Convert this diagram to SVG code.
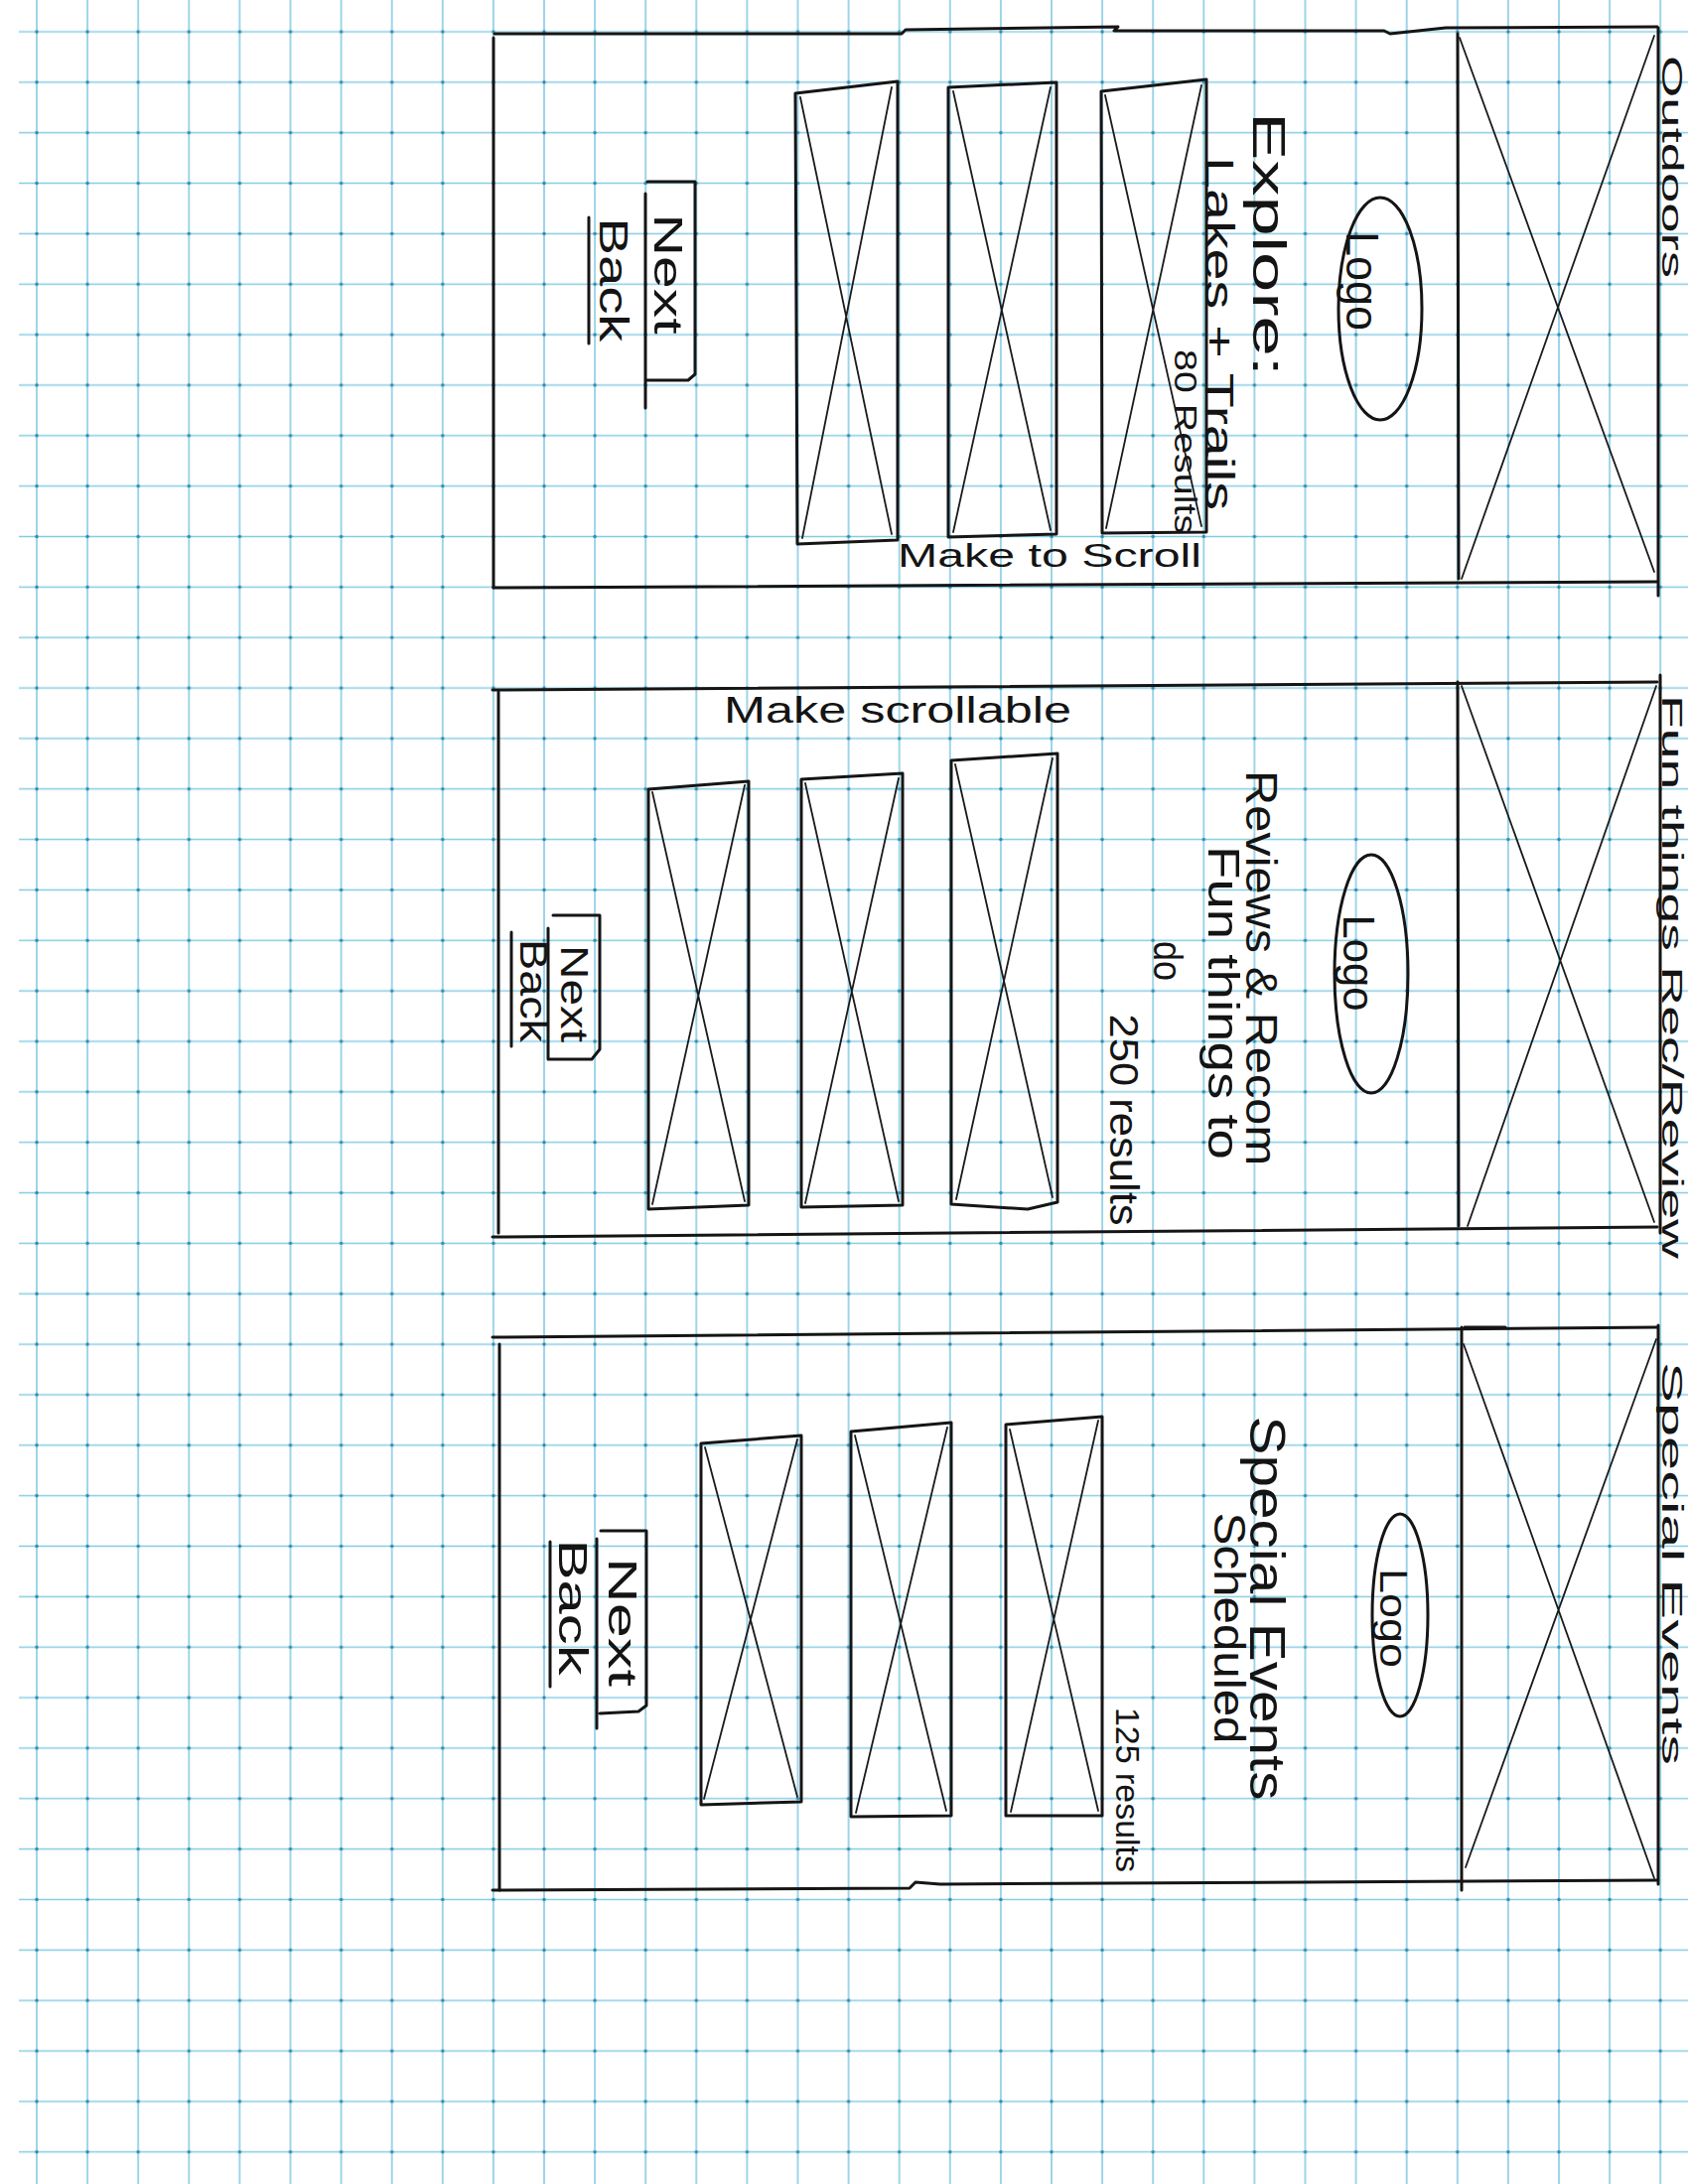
<svg xmlns="http://www.w3.org/2000/svg" width="1700" height="2200" viewBox="0 0 1700 2200">
<style>
.ink{fill:none;stroke:#151515;stroke-width:3;stroke-linecap:round;stroke-linejoin:round}
.thin{fill:none;stroke:#1a1a1a;stroke-width:1.8;stroke-linecap:round}
.box{fill:none;stroke:#151515;stroke-width:3;stroke-linejoin:round}
.hw{font-family:"Liberation Sans","DejaVu Sans",sans-serif;fill:#141414}
</style>
<defs>
<pattern id="grid" patternUnits="userSpaceOnUse" x="11.45" y="6.575" width="51.1" height="50.85">
<path d="M0 25.425 H51.1 M25.55 0 V50.85" stroke="#86cbe3" stroke-width="1.6" fill="none"/>
<circle cx="25.55" cy="25.425" r="1.8" fill="#2f8db0"/>
</pattern>
</defs>
<rect width="1700" height="2200" fill="#ffffff"/>
<rect x="19" y="0" width="1681" height="2200" fill="url(#grid)"/>

<g id="connectors"></g>

<!-- Panel 1: Outdoors -->
<g id="panel-outdoors">
<path class="ink" d="M498 34 L908 34 L912 30 L1126 27 L1122 31 L1394 31 L1400 34 L1456 28 L1669 27"/>
<path class="ink" d="M497 38 L497 592"/>
<path class="ink" d="M497 592 L1669 586"/>
<path class="ink" d="M1670 28 L1670 600"/>
<g id="p1-hero"><path class="ink" d="M1468 34 L1469 583"/><path class="thin" d="M1470 38 L1666 576 M1666 36 L1472 583"/></g>
<g id="p1-logo"><ellipse class="ink" cx="1390" cy="311" rx="42" ry="112"/><text class="hw" transform="translate(1372 283) rotate(90)" text-anchor="middle" dominant-baseline="central" font-size="46" textLength="100" lengthAdjust="spacingAndGlyphs">Logo</text></g>
<g id="p1-title">
<text class="hw" transform="translate(1278 246) rotate(90)" text-anchor="middle" dominant-baseline="central" font-size="46" textLength="266" lengthAdjust="spacingAndGlyphs">Explore:</text>
<text class="hw" transform="translate(1228 336) rotate(90)" text-anchor="middle" dominant-baseline="central" font-size="40" textLength="356" lengthAdjust="spacingAndGlyphs">Lakes + Trails</text>
<text class="hw" transform="translate(1194 445) rotate(90)" text-anchor="middle" dominant-baseline="central" font-size="32" textLength="186" lengthAdjust="spacingAndGlyphs">80 Results</text>
</g>
<g id="p1-card-a"><path class="box" d="M801 94 L904 82 L904 544 L803 548 Z"/><path class="thin" d="M806 98 L898 538 M898 88 L808 542"/></g>
<g id="p1-card-b"><path class="box" d="M955 88 L1064 83 L1064 538 L955 541 Z"/><path class="thin" d="M960 92 L1058 534 M1058 88 L960 536"/></g>
<g id="p1-card-c"><path class="box" d="M1109 92 L1215 80 L1215 536 L1110 537 Z"/><path class="thin" d="M1113 96 L1210 530 M1210 86 L1114 532"/></g>
<text id="p1-scroll" class="hw" x="904" y="571" font-size="34" textLength="306" lengthAdjust="spacingAndGlyphs">Make to Scroll</text>
<g id="p1-nav">
<path class="ink" d="M650 195 L650 411 M652 183 L700 183 L700 377 L693 383 L650 383"/>
<text class="hw" transform="translate(673 276) rotate(90)" text-anchor="middle" dominant-baseline="central" font-size="40" textLength="121" lengthAdjust="spacingAndGlyphs">Next</text>
<text class="hw" transform="translate(618 282) rotate(90)" text-anchor="middle" dominant-baseline="central" font-size="40" textLength="125" lengthAdjust="spacingAndGlyphs">Back</text>
<path class="ink" d="M593 219 L593 346"/>
</g>
</g>

<!-- Panel 2: Fun things Rec/Review -->
<g id="panel-fun-things">
<path class="ink" d="M496 695 L1669 687"/>
<path class="ink" d="M502 697 L502 1242"/>
<path class="ink" d="M496 1246 L1669 1236"/>
<path class="ink" d="M1672 680 L1672 1242"/>
<g id="p2-hero"><path class="ink" d="M1468 687 L1469 1235"/><path class="thin" d="M1472 691 L1666 1231 M1668 691 L1478 1235"/></g>
<g id="p2-logo"><ellipse class="ink" cx="1381" cy="981" rx="37" ry="120"/><text class="hw" transform="translate(1368 970) rotate(90)" text-anchor="middle" dominant-baseline="central" font-size="44" textLength="97" lengthAdjust="spacingAndGlyphs">Logo</text></g>
<g id="p2-title">
<text class="hw" transform="translate(1270 975) rotate(90)" text-anchor="middle" dominant-baseline="central" font-size="44" textLength="398" lengthAdjust="spacingAndGlyphs">Reviews &amp; Recom</text>
<text class="hw" transform="translate(1232 1010) rotate(90)" text-anchor="middle" dominant-baseline="central" font-size="44" textLength="316" lengthAdjust="spacingAndGlyphs">Fun things to</text>
<text class="hw" transform="translate(1176 968) rotate(90)" text-anchor="middle" dominant-baseline="central" font-size="40" textLength="40" lengthAdjust="spacingAndGlyphs">do</text>
<text class="hw" transform="translate(1132 1128) rotate(90)" text-anchor="middle" dominant-baseline="central" font-size="40" textLength="213" lengthAdjust="spacingAndGlyphs">250 results</text>
</g>
<text id="p2-scroll" class="hw" x="729" y="728" font-size="36" textLength="350" lengthAdjust="spacingAndGlyphs">Make scrollable</text>
<g id="p2-card-a"><path class="box" d="M653 795 L754 787 L754 1214 L653 1218 Z"/><path class="thin" d="M657 798 L750 1210 M750 791 L657 1213"/></g>
<g id="p2-card-b"><path class="box" d="M807 785 L909 779 L909 1214 L807 1216 Z"/><path class="thin" d="M811 789 L905 1210 M905 784 L811 1212"/></g>
<g id="p2-card-c"><path class="box" d="M958 766 L1065 759 L1065 1211 L1035 1218 L958 1213 Z"/><path class="thin" d="M962 770 L1060 1206 M1060 764 L963 1208"/></g>
<g id="p2-nav">
<path class="ink" d="M552 935 L552 1067 M557 922 L604 922 L604 1057 L596 1067 L552 1067"/>
<text class="hw" transform="translate(578 1001) rotate(90)" text-anchor="middle" dominant-baseline="central" font-size="38" textLength="98" lengthAdjust="spacingAndGlyphs">Next</text>
<text class="hw" transform="translate(537 998) rotate(90)" text-anchor="middle" dominant-baseline="central" font-size="38" textLength="104" lengthAdjust="spacingAndGlyphs">Back</text>
<path class="ink" d="M515 939 L515 1054"/>
</g>
</g>

<!-- Panel 3: Special Events -->
<g id="panel-special-events">
<path class="ink" d="M496 1347 L1669 1337"/>
<path class="ink" d="M503 1354 L503 1904"/>
<path class="ink" d="M496 1904 L916 1902 L922 1896 L947 1898 L1669 1894"/>
<path class="ink" d="M1670 1335 L1670 1898"/>
<g id="p3-hero"><path class="ink" d="M1472 1337 L1472 1904 M1475 1337 L1516 1337"/><path class="thin" d="M1474 1354 L1666 1892 M1668 1349 L1476 1881"/></g>
<g id="p3-logo"><ellipse class="ink" cx="1410" cy="1627" rx="28" ry="102"/><text class="hw" transform="translate(1403 1630) rotate(90)" text-anchor="middle" dominant-baseline="central" font-size="38" textLength="100" lengthAdjust="spacingAndGlyphs">Logo</text></g>
<g id="p3-title">
<text class="hw" transform="translate(1276 1620) rotate(90)" text-anchor="middle" dominant-baseline="central" font-size="50" textLength="387" lengthAdjust="spacingAndGlyphs">Special Events</text>
<text class="hw" transform="translate(1238 1640) rotate(90)" text-anchor="middle" dominant-baseline="central" font-size="44" textLength="233" lengthAdjust="spacingAndGlyphs">Scheduled</text>
<text class="hw" transform="translate(1136 1803) rotate(90)" text-anchor="middle" dominant-baseline="central" font-size="34" textLength="166" lengthAdjust="spacingAndGlyphs">125 results</text>
</g>
<g id="p3-card-a"><path class="box" d="M706 1454 L807 1446 L807 1815 L706 1818 Z"/><path class="thin" d="M710 1458 L803 1810 M803 1450 L709 1812"/></g>
<g id="p3-card-b"><path class="box" d="M857 1442 L958 1433 L958 1829 L857 1830 Z"/><path class="thin" d="M861 1446 L953 1824 M954 1438 L862 1826"/></g>
<g id="p3-card-c"><path class="box" d="M1013 1435 L1110 1427 L1110 1829 L1013 1829 Z"/><path class="thin" d="M1017 1440 L1106 1824 M1106 1431 L1018 1825"/></g>
<g id="p3-nav">
<path class="ink" d="M601 1550 L601 1741 M605 1542 L651 1542 L651 1718 L643 1724 L604 1726"/>
<text class="hw" transform="translate(627 1634) rotate(90)" text-anchor="middle" dominant-baseline="central" font-size="40" textLength="130" lengthAdjust="spacingAndGlyphs">Next</text>
<text class="hw" transform="translate(577 1619) rotate(90)" text-anchor="middle" dominant-baseline="central" font-size="40" textLength="137" lengthAdjust="spacingAndGlyphs">Back</text>
<path class="ink" d="M554 1553 L554 1699"/>
</g>
</g>

<!-- Edge labels (at paper edge) -->
<g id="edge-labels">
<text class="hw" transform="translate(1684 168) rotate(90)" text-anchor="middle" dominant-baseline="central" font-size="30" textLength="224" lengthAdjust="spacingAndGlyphs">Outdoors</text>
<text class="hw" transform="translate(1684 984) rotate(90)" text-anchor="middle" dominant-baseline="central" font-size="30" textLength="568" lengthAdjust="spacingAndGlyphs">Fun things Rec/Review</text>
<text class="hw" transform="translate(1684 1575) rotate(90)" text-anchor="middle" dominant-baseline="central" font-size="30" textLength="406" lengthAdjust="spacingAndGlyphs">Special Events</text>
</g>
</svg>
